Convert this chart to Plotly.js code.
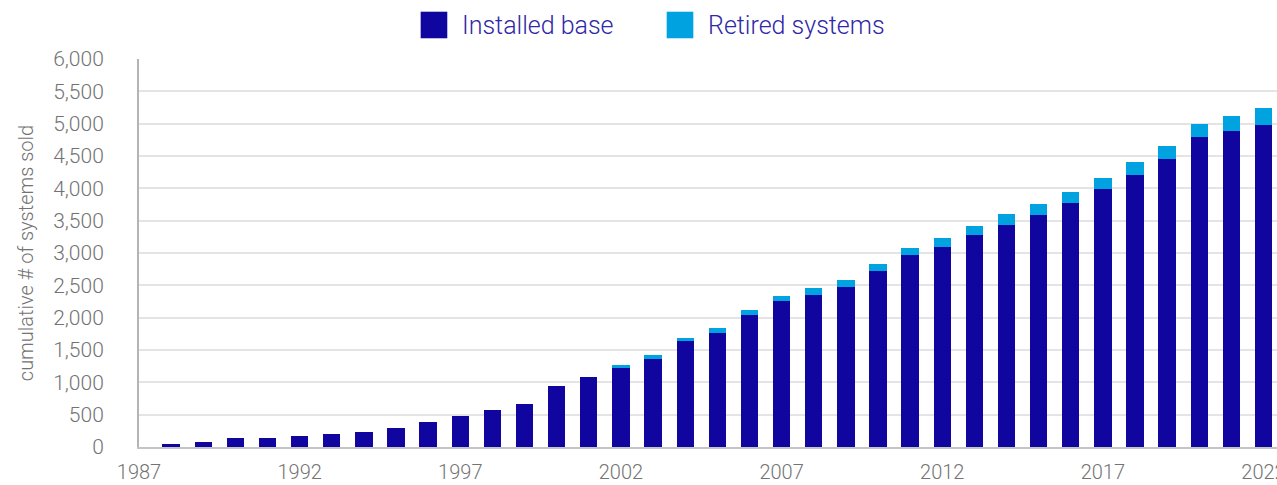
<!DOCTYPE html>
<html>
<head>
<meta charset="utf-8">
<script src="https://cdn.plot.ly/plotly-3.0.1.min.js"></script>
<style>
  html, body { margin: 0; padding: 0; background: #ffffff; }
  #chart { width: 1277px; height: 485px; }
</style>
</head>
<body>
<div id="chart"></div>
<script>
// ---- data ----
const years = [1988,1989,1990,1991,1992,1993,1994,1995,1996,1997,
               1998,1999,2000,2001,2002,2003,2004,2005,2006,2007,
               2008,2009,2010,2011,2012,2013,2014,2015,2016,2017,
               2018,2019,2020,2021,2022];
const installedBase = [40,80,140,140,168,202,235,298,390,485,
                       575,665,950,1075,1214,1365,1640,1761,2040,2257,
                       2350,2474,2722,2970,3093,3279,3434,3590,3775,3992,
                       4209,4456,4797,4890,4985];
const retiredSystems = [0,0,0,0,0,0,0,0,0,0,
                        0,0,0,0,47,52,45,78,77,77,
                        108,108,108,108,140,140,171,169,170,170,
                        201,202,202,233,262];
const seriesNames = ["Installed base", "Retired systems"];
const xTickVals = [1987,1992,1997,2002,2007,2012,2017,2022];
const xTickText = ["1987","1992","1997","2002","2007","2012","2017","2022"];
const yTickVals = [0,500,1000,1500,2000,2500,3000,3500,4000,4500,5000,5500,6000];
const yTitle = "cumulative # of systems sold";

// ---- style ----
const darkBlue = "#10069f";
const lightBlue = "#00a3e0";
const fam = "Roboto, 'Liberation Sans', Arial, sans-serif";
const yTickFont = {family: fam, size: 21, color: "#737373", weight: 300};
const xTickFont = {family: fam, size: 20, color: "#737373", weight: 300};
const titleFont = {family: fam, size: 20, color: "#737373", weight: 300};
const legendFont = {family: fam, size: 25, color: "#2f28a8", weight: 300};

const traces = [
  {type: "bar", name: seriesNames[0], x: years, y: installedBase, width: 0.54,
   marker: {color: darkBlue, line: {width: 0}}, showlegend: false, hoverinfo: "x+y"},
  {type: "bar", name: seriesNames[1], x: years, y: retiredSystems, width: 0.54,
   marker: {color: lightBlue, line: {width: 0}}, showlegend: false, hoverinfo: "x+y"}
];

// manual legend (large swatches as in reference)
const legendItems = [
  {x0: 0.2475, x1: 0.2709, tx: 0.2820, color: darkBlue, label: seriesNames[0]},
  {x0: 0.4637, x1: 0.4871, tx: 0.4985, color: lightBlue, label: seriesNames[1]}
];
const shapes = legendItems.map(it => ({
  type: "rect", xref: "paper", yref: "paper", x0: it.x0, x1: it.x1, y0: 1.0534, y1: 1.1219,
  fillcolor: it.color, line: {width: 0}
}));
const annotations = legendItems.map(it => ({
  xref: "paper", yref: "paper", x: it.tx, y: 1.0876, xanchor: "left", yanchor: "middle",
  text: it.label, showarrow: false, font: legendFont
}));

const layout = {
  width: 1277, height: 485,
  margin: {l: 139, r: 0, t: 59, b: 38, pad: 0},
  paper_bgcolor: "#ffffff", plot_bgcolor: "#ffffff",
  barmode: "stack",
  showlegend: false,
  xaxis: {
    range: [1987, 2022.42], tickmode: "array", tickvals: xTickVals, ticktext: xTickText,
    showgrid: false, zeroline: false, showline: true, linecolor: "#c4c4c4", linewidth: 2,
    ticks: "", ticklabelstandoff: 6, ticklabeloverflow: "allow", tickfont: xTickFont,
    automargin: false, fixedrange: true
  },
  yaxis: {
    range: [0, 6000], tickmode: "array", tickvals: yTickVals, tickformat: ",d",
    showgrid: true, gridcolor: "#e4e4e4", gridwidth: 2, zeroline: false,
    showline: true, linecolor: "#b4b4b4", linewidth: 2,
    ticks: "", ticklabelstandoff: 29, tickfont: yTickFont,
    title: {text: yTitle, font: titleFont, standoff: 14},
    automargin: true, fixedrange: true
  },
  shapes: shapes,
  annotations: annotations
};

Plotly.newPlot("chart", traces, layout, {displayModeBar: false, staticPlot: true});
</script>
</body>
</html>
